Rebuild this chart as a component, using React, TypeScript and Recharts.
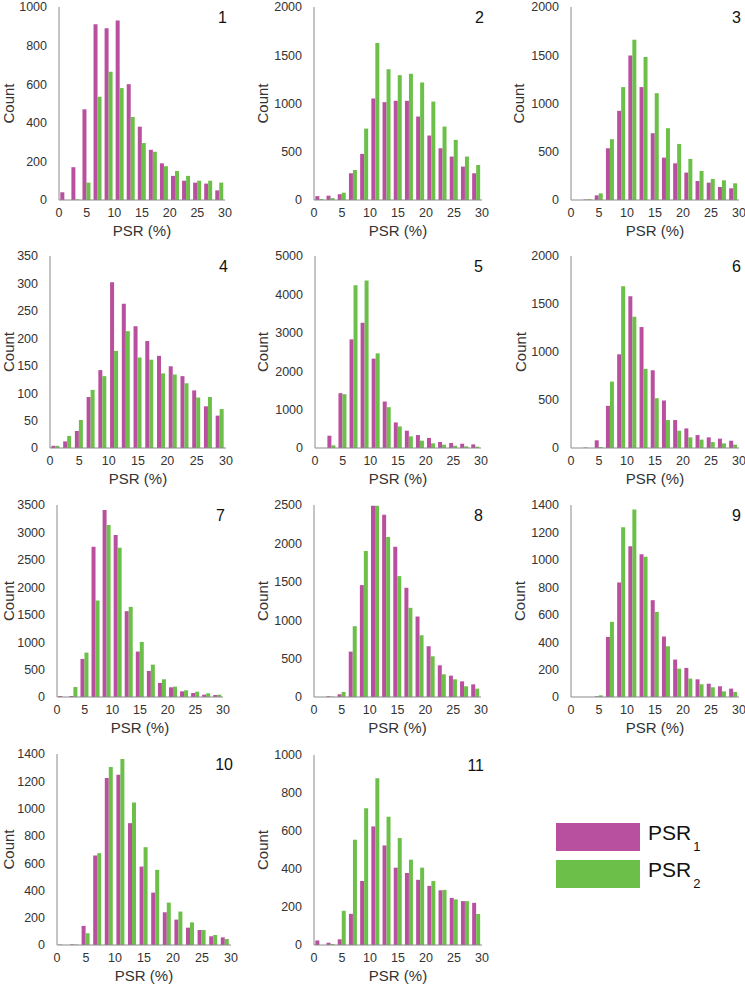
import React from "react";
import { Bar, BarChart, XAxis, YAxis } from "recharts";

// bin centres (2 % wide bins from 0 to 30)
const BINS = [1, 3, 5, 7, 9, 11, 13, 15, 17, 19, 21, 23, 25, 27, 29];
const X_TICKS = [0, 5, 10, 15, 20, 25, 30];

const TICKS_1000 = [0, 200, 400, 600, 800, 1000];
const TICKS_1400 = [0, 200, 400, 600, 800, 1000, 1200, 1400];
const TICKS_2000 = [0, 500, 1000, 1500, 2000];
const TICKS_2500 = [0, 500, 1000, 1500, 2000, 2500];
const TICKS_3500 = [0, 500, 1000, 1500, 2000, 2500, 3000, 3500];
const TICKS_5000 = [0, 1000, 2000, 3000, 4000, 5000];
const TICKS_350 = [0, 50, 100, 150, 200, 250, 300, 350];

const PSR1_1 = [40, 170, 470, 910, 890, 930, 600, 380, 260, 190, 125, 100, 90, 85, 50];
const PSR2_1 = [0, 3, 90, 535, 665, 580, 430, 295, 250, 175, 150, 125, 100, 100, 90];
const PSR1_2 = [40, 45, 60, 277, 478, 1052, 1014, 1028, 1028, 865, 668, 536, 450, 346, 277];
const PSR2_2 = [10, 20, 76, 311, 740, 1626, 1356, 1294, 1308, 1218, 1020, 761, 623, 450, 363];
const PSR1_3 = [0, 5, 48, 536, 924, 1498, 1170, 692, 439, 380, 284, 197, 180, 135, 121];
const PSR2_3 = [0, 8, 69, 630, 1170, 1661, 1481, 1107, 744, 581, 426, 301, 218, 204, 173];
const PSR1_4 = [4, 12, 31, 93, 142, 302, 263, 222, 195, 168, 149, 131, 105, 76, 59];
const PSR2_4 = [4, 22, 51, 106, 131, 177, 213, 165, 161, 136, 134, 118, 92, 93, 71];
const PSR1_5 = [0, 320, 1427, 2829, 3261, 2327, 1211, 666, 450, 337, 260, 156, 130, 112, 95];
const PSR2_5 = [0, 70, 1401, 4239, 4360, 2465, 1064, 562, 303, 190, 121, 86, 60, 43, 35];
const PSR1_6 = [0, 5, 80, 439, 976, 1581, 1260, 810, 495, 291, 204, 135, 111, 97, 76];
const PSR2_6 = [0, 0, 10, 692, 1685, 1367, 824, 519, 291, 180, 111, 87, 62, 48, 35];
const PSR1_7 = [18, 18, 694, 2739, 3408, 2952, 1564, 828, 475, 256, 177, 103, 73, 43, 37];
const PSR2_7 = [0, 183, 809, 1759, 3134, 2721, 1643, 1004, 590, 323, 189, 122, 97, 67, 43];
const PSR1_8 = [0, 10, 35, 591, 1457, 2491, 2374, 1957, 1422, 1048, 661, 413, 278, 204, 165];
const PSR2_8 = [0, 5, 65, 922, 1900, 2491, 2083, 1574, 1161, 804, 530, 296, 230, 139, 109];
const PSR1_9 = [0, 0, 5, 438, 835, 1100, 1040, 706, 441, 273, 212, 129, 97, 78, 61];
const PSR2_9 = [0, 0, 12, 548, 1237, 1368, 1023, 621, 370, 207, 134, 93, 71, 41, 37];
const PSR1_10 = [3, 5, 140, 656, 1224, 1248, 893, 575, 384, 240, 186, 127, 110, 64, 56];
const PSR2_10 = [0, 3, 86, 673, 1304, 1363, 1045, 717, 551, 311, 245, 166, 110, 73, 44];
const PSR1_11 = [24, 12, 30, 164, 337, 624, 524, 407, 379, 343, 311, 288, 248, 231, 222];
const PSR2_11 = [0, 5, 180, 554, 720, 878, 675, 563, 449, 407, 337, 290, 240, 231, 163];

const SERIES = [
  { key: "psr1", label: "PSR", sub: "1", color: "#b9509f" },
  { key: "psr2", label: "PSR", sub: "2", color: "#6cc04a" },
] as const;

const PANELS = [
  { n: "1", psr1: PSR1_1, psr2: PSR2_1, yTicks: TICKS_1000 },
  { n: "2", psr1: PSR1_2, psr2: PSR2_2, yTicks: TICKS_2000 },
  { n: "3", psr1: PSR1_3, psr2: PSR2_3, yTicks: TICKS_2000 },
  { n: "4", psr1: PSR1_4, psr2: PSR2_4, yTicks: TICKS_350 },
  { n: "5", psr1: PSR1_5, psr2: PSR2_5, yTicks: TICKS_5000 },
  { n: "6", psr1: PSR1_6, psr2: PSR2_6, yTicks: TICKS_2000 },
  { n: "7", psr1: PSR1_7, psr2: PSR2_7, yTicks: TICKS_3500 },
  { n: "8", psr1: PSR1_8, psr2: PSR2_8, yTicks: TICKS_2500 },
  { n: "9", psr1: PSR1_9, psr2: PSR2_9, yTicks: TICKS_1400 },
  { n: "10", psr1: PSR1_10, psr2: PSR2_10, yTicks: TICKS_1400 },
  { n: "11", psr1: PSR1_11, psr2: PSR2_11, yTicks: TICKS_1000 },
];

// plot-area boxes on the page (left, right, top, bottom) and distance of "Count" from the y axis
const LAYOUT = [
  { l: 59, r: 225, t: 7, b: 200, cg: 50 },
  { l: 314, r: 482, t: 7, b: 200, cg: 51 },
  { l: 571, r: 739, t: 7, b: 200, cg: 52 },
  { l: 50, r: 226, t: 256, b: 448, cg: 41 },
  { l: 315, r: 481, t: 256, b: 448, cg: 52 },
  { l: 571, r: 739, t: 256, b: 448, cg: 50 },
  { l: 57, r: 223, t: 505, b: 697, cg: 48 },
  { l: 314, r: 481, t: 505, b: 697, cg: 51 },
  { l: 571, r: 739, t: 505, b: 697, cg: 51 },
  { l: 57, r: 231, t: 754, b: 945, cg: 48 },
  { l: 314, r: 482, t: 755, b: 945, cg: 51 },
];

const AXIS = "#8a8a8a";
const TEXT = "#333";
const FONT = "'Liberation Sans', Arial, Helvetica, sans-serif";

type PanelProps = {
  n: string;
  psr1: number[];
  psr2: number[];
  yTicks: number[];
  box: { l: number; r: number; t: number; b: number; cg: number };
};

function Panel({ n, psr1, psr2, yTicks, box }: PanelProps) {
  const yw = box.cg * 2;
  const mTop = 6;
  const mRight = 12;
  const xh = 40;
  const width = yw + (box.r - box.l) + mRight;
  const height = mTop + (box.b - box.t) + xh;
  const data = BINS.map((bin, i) => ({ bin, psr1: psr1[i], psr2: psr2[i] }));

  return (
    <>
      <div style={{ position: "absolute", left: box.l - yw, top: box.t - mTop, width, height }}>
        <BarChart
          width={width}
          height={height}
          data={data}
          margin={{ top: mTop, right: mRight, bottom: 0, left: 0 }}
          barCategoryGap="12%"
          barGap={0}
        >
          <XAxis xAxisId="cat" dataKey="bin" type="category" hide height={0} />
          <XAxis
            xAxisId="num"
            dataKey="bin"
            type="number"
            domain={[0, 30]}
            ticks={X_TICKS}
            interval={0}
            height={xh}
            stroke={AXIS}
            tickLine={false}
            tick={{ fill: TEXT, fontSize: 12.5 }}
            label={{ value: "PSR (%)", position: "insideBottom", offset: 4, fill: TEXT, fontSize: 15 }}
          />
          <YAxis
            domain={[0, yTicks[yTicks.length - 1]]}
            ticks={yTicks}
            interval={0}
            width={yw}
            stroke={AXIS}
            tickLine={false}
            tickMargin={6}
            tick={{ fill: TEXT, fontSize: 12.5 }}
            label={{ value: "Count", angle: -90, position: "center", fill: TEXT, fontSize: 15 }}
          />
          {SERIES.map((s) => (
            <Bar key={s.key} xAxisId="cat" dataKey={s.key} fill={s.color} isAnimationActive={false} />
          ))}
        </BarChart>
      </div>
      <div
        style={{
          position: "absolute",
          left: box.r - 60,
          width: 62,
          top: box.t + 3,
          textAlign: "right",
          fontSize: 16,
          lineHeight: 1,
          color: "#111",
        }}
      >
        {n}
      </div>
    </>
  );
}

function Legend() {
  return (
    <div style={{ position: "absolute", left: 556, top: 823 }}>
      {SERIES.map((s, i) => (
        <div key={s.key} style={{ position: "absolute", left: 0, top: i * 37, width: 200, height: 28 }}>
          <div style={{ position: "absolute", left: 0, top: 0, width: 84, height: 28, background: s.color }} />
          <div
            style={{
              position: "absolute",
              left: 92,
              top: -1,
              fontSize: 21,
              lineHeight: 1,
              color: "#111",
              whiteSpace: "nowrap",
            }}
          >
            {s.label}
            <span style={{ fontSize: 13, position: "relative", top: 11, marginLeft: 2 }}>{s.sub}</span>
          </div>
        </div>
      ))}
    </div>
  );
}

export default function App() {
  return (
    <div
      style={{
        position: "absolute",
        left: 0,
        top: 0,
        width: 745,
        height: 985,
        overflow: "hidden",
        background: "#fff",
        fontFamily: FONT,
      }}
    >
      {PANELS.map((p, i) => (
        <Panel key={p.n} {...p} box={LAYOUT[i]} />
      ))}
      <Legend />
    </div>
  );
}
